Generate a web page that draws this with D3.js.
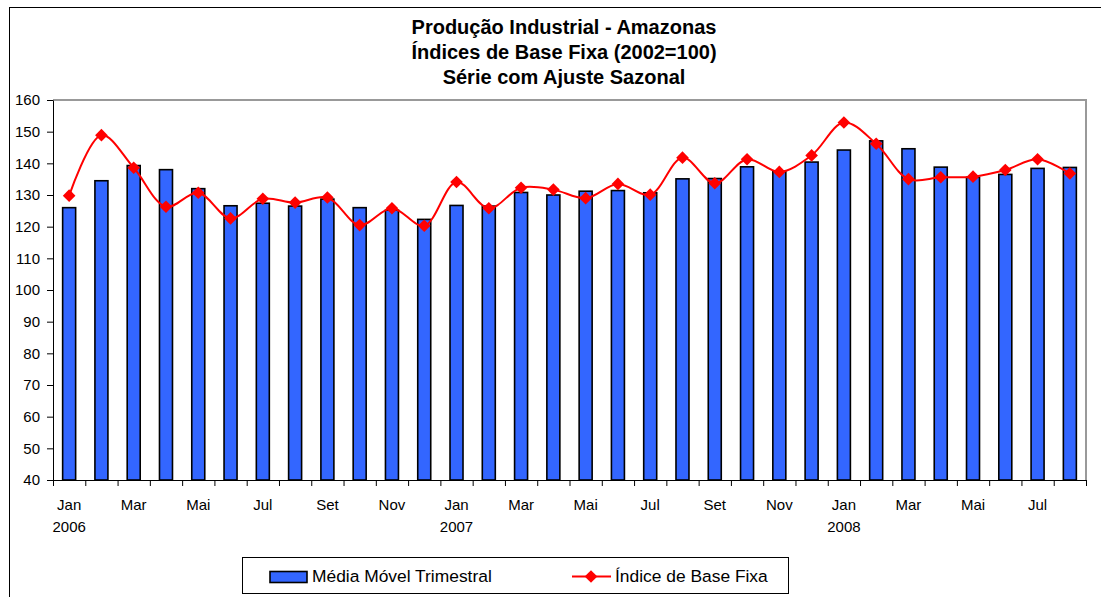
<!DOCTYPE html>
<html>
<head>
<meta charset="utf-8">
<script src="https://cdn.jsdelivr.net/npm/d3@7"></script>
<style>
  body { margin: 0; background: #fff; }
  svg text { font-family: "Liberation Sans", Arial, sans-serif; fill: #000; }
</style>
</head>
<body>
<div id="chart"></div>
<script>
let svgWidth = 1101;
let svgHeight = 597;

// months Jan 2006 .. Aug 2008
let months = ["Jan","Fev","Mar","Abr","Mai","Jun","Jul","Ago","Set","Out","Nov","Dez",
  "Jan","Fev","Mar","Abr","Mai","Jun","Jul","Ago","Set","Out","Nov","Dez",
  "Jan","Fev","Mar","Abr","Mai","Jun","Jul","Ago"];
let years = ["2006","","","","","","","","","","","",
  "2007","","","","","","","","","","","",
  "2008","","","","","","",""];

// Média Móvel Trimestral (bars)
let mediaMovel = [126.0, 134.5, 139.3, 138.0, 132.0, 126.6, 127.4, 126.5, 128.7, 126.0, 125.2, 122.3,
  126.7, 126.5, 130.8, 130.0, 131.2, 131.4, 130.7, 135.1, 135.2, 138.9, 137.4, 140.4,
  144.2, 147.1, 144.6, 138.8, 135.6, 136.5, 138.4, 138.7];

// Índice de Base Fixa (line)
let indiceBase = [129.8, 148.9, 138.6, 126.3, 130.7, 122.6, 128.8, 127.6, 129.2, 120.5, 125.8, 120.3,
  134.1, 125.8, 132.3, 131.7, 129.0, 133.5, 130.1, 141.8, 133.7, 141.3, 137.3, 142.5,
  152.9, 146.2, 135.0, 135.6, 135.8, 137.9, 141.3, 136.8];

let yTicks = [40, 50, 60, 70, 80, 90, 100, 110, 120, 130, 140, 150, 160];
let titleLines = ["Produção Industrial - Amazonas", "Índices de Base Fixa (2002=100)", "Série com Ajuste Sazonal"];

let plot = { left: 53, right: 1086, top: 100, bottom: 480 };

let svg = d3.select("#chart")
  .append("svg")
  .attr("width", svgWidth)
  .attr("height", svgHeight);

// outer chart border
svg.append("rect")
  .attr("x", 9.5).attr("y", 7.5)
  .attr("width", 1200).attr("height", 700)
  .attr("fill", "#fff")
  .attr("stroke", "#000")
  .attr("stroke-width", 1);

// title
svg.selectAll(".title")
  .data(titleLines)
  .enter()
  .append("text")
  .attr("class", "title")
  .attr("x", 564)
  .attr("y", (d, i) => 34 + i * 25)
  .attr("text-anchor", "middle")
  .attr("font-size", 20)
  .attr("font-weight", "bold")
  .text(d => d);

let x = d3.scaleBand()
  .domain(d3.range(months.length))
  .range([plot.left, plot.right])
  .padding(0);

let xTick = d3.scaleLinear()
  .domain([0, months.length])
  .range([plot.left, plot.right]);

let y = d3.scaleLinear()
  .domain([40, 160])
  .range([plot.bottom, plot.top]);

// plot area top/right border (gray)
svg.append("path")
  .attr("d", `M${plot.left},${plot.top}H${plot.right}V${plot.bottom}`)
  .attr("fill", "none")
  .attr("stroke", "#999")
  .attr("stroke-width", 2);

// bars
let barW = 13;
svg.selectAll(".bar")
  .data(mediaMovel)
  .enter()
  .append("rect")
  .attr("class", "bar")
  .attr("x", (d, i) => x(i) + x.bandwidth() / 2 - barW / 2)
  .attr("y", d => y(d))
  .attr("width", barW)
  .attr("height", d => y(40) - y(d))
  .attr("fill", "#3366FF")
  .attr("stroke", "#000")
  .attr("stroke-width", 1.6);

// y axis
let leftAxis = d3.axisLeft(y).tickValues(yTicks).tickSizeInner(6).tickSizeOuter(0).tickPadding(7);
let gy = svg.append("g")
  .attr("transform", `translate(${plot.left},0)`)
  .call(leftAxis);
gy.selectAll("text").attr("font-size", 15).style("font-family", "'Liberation Sans', Arial, sans-serif").attr("fill", "#000");
gy.selectAll("line, path").attr("stroke", "#000");

// x axis ticks at category boundaries
let bottomAxis = d3.axisBottom(xTick).tickValues(d3.range(months.length + 1)).tickFormat("").tickSizeInner(6).tickSizeOuter(0);
let gx = svg.append("g")
  .attr("transform", `translate(0,${plot.bottom})`)
  .call(bottomAxis);
gx.selectAll("line, path").attr("stroke", "#000");

// x labels every other month
svg.selectAll(".mlabel")
  .data(months)
  .enter()
  .filter((d, i) => i % 2 === 0)
  .append("text")
  .attr("class", "mlabel")
  .attr("x", (d, i) => x(i * 2) + x.bandwidth() / 2)
  .attr("y", 510)
  .attr("text-anchor", "middle")
  .attr("font-size", 15)
  .text(d => d);

svg.selectAll(".ylabel")
  .data(years)
  .enter()
  .append("text")
  .attr("class", "ylabel")
  .attr("x", (d, i) => x(i) + x.bandwidth() / 2)
  .attr("y", 532)
  .attr("text-anchor", "middle")
  .attr("font-size", 15)
  .text(d => d);

// line
let line = d3.line()
  .x((d, i) => x(i) + x.bandwidth() / 2)
  .y(d => y(d))
  .curve(d3.curveCatmullRom.alpha(0.5));

svg.append("path")
  .datum(indiceBase)
  .attr("d", line)
  .attr("fill", "none")
  .attr("stroke", "#FF0000")
  .attr("stroke-width", 2);

let diamond = d3.symbol().type(d3.symbolSquare).size(80);
svg.selectAll(".pt")
  .data(indiceBase)
  .enter()
  .append("path")
  .attr("class", "pt")
  .attr("d", diamond)
  .attr("transform", (d, i) => `translate(${x(i) + x.bandwidth() / 2},${y(d)}) rotate(45)`)
  .attr("fill", "#FF0000");

// legend
let legend = svg.append("g");
legend.append("rect")
  .attr("x", 242.5).attr("y", 557.5)
  .attr("width", 546).attr("height", 36)
  .attr("fill", "#fff")
  .attr("stroke", "#000")
  .attr("stroke-width", 1);

legend.append("rect")
  .attr("x", 270).attr("y", 571.5)
  .attr("width", 37).attr("height", 11)
  .attr("fill", "#3366FF")
  .attr("stroke", "#000")
  .attr("stroke-width", 1.6);

legend.append("text")
  .attr("x", 312).attr("y", 582)
  .attr("font-size", 17.4)
  .text("Média Móvel Trimestral");

legend.append("line")
  .attr("x1", 572).attr("x2", 611)
  .attr("y1", 576.5).attr("y2", 576.5)
  .attr("stroke", "#FF0000")
  .attr("stroke-width", 2);

legend.append("path")
  .attr("d", diamond)
  .attr("transform", "translate(591,576.5) rotate(45)")
  .attr("fill", "#FF0000");

legend.append("text")
  .attr("x", 615).attr("y", 582)
  .attr("font-size", 17.4)
  .text("Índice de Base Fixa");
</script>
</body>
</html>
